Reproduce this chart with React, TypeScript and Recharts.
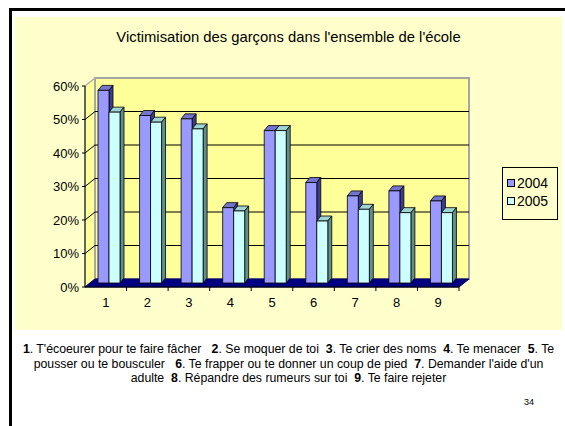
import React from "react"
import { BarChart, Bar, XAxis, YAxis, ReferenceArea, Legend } from "recharts"

const categories = ["1", "2", "3", "4", "5", "6", "7", "8", "9"]
const values2004 = [57.5, 50, 49, 22.5, 45.5, 30, 26, 27.5, 24.5]
const values2005 = [51, 48, 46, 21.5, 45.5, 18.5, 22, 21, 21]
const yTicks = [0, 10, 20, 30, 40, 50, 60]
const seriesNames = ["2004", "2005"]

const title = "Victimisation des garçons dans l'ensemble de l'école"
const footnoteLines: [string, string][][] = [
  [
    ["1", ". T'écoeurer pour te faire fâcher   "],
    ["2", ". Se moquer de toi  "],
    ["3", ". Te crier des noms  "],
    ["4", ". Te menacer  "],
    ["5", ". Te"],
  ],
  [
    ["", "pousser ou te bousculer   "],
    ["6", ". Te frapper ou te donner un coup de pied  "],
    ["7", ". Demander l'aide d'un"],
  ],
  [
    ["", "adulte  "],
    ["8", ". Répandre des rumeurs sur toi  "],
    ["9", ". Te faire rejeter"],
  ],
]
const pageNumber = "34"

const data = categories.map((cat, i) => ({
  cat,
  v2004: values2004[i],
  v2005: values2005[i],
}))

const FONT = "'Liberation Sans', Arial, sans-serif"

// 3d look: wall depth, bar depth and where the bars sit inside the floor
const WALL_DX = 10
const WALL_DY = 8
const BAR_DX = 4
const BAR_DY = 5
const BAR_SHIFT_X = 3
const BAR_SHIFT_Y = 4

const Walls = (props: any) => {
  const { x, y, width, height } = props
  const bottom = y + height
  const right = x + width
  const yOf = (v: number) => bottom - (v / yTicks[yTicks.length - 1]) * height
  return (
    <g>
      <polygon
        points={`${x},${y} ${x + WALL_DX},${y - WALL_DY} ${x + WALL_DX},${bottom - WALL_DY} ${x},${bottom}`}
        fill="#FFFF99"
        stroke="#A6A6A6"
        strokeWidth={1.2}
      />
      <rect x={x + WALL_DX} y={y - WALL_DY} width={width} height={height} fill="#FFFF99" stroke="#A6A6A6" strokeWidth={2} />
      {yTicks.slice(1, -1).map((v) => (
        <g key={v} stroke="#000" strokeWidth={1}>
          <line x1={x} y1={yOf(v)} x2={x + WALL_DX} y2={yOf(v) - WALL_DY} />
          <line x1={x + WALL_DX} y1={yOf(v) - WALL_DY} x2={right + WALL_DX} y2={yOf(v) - WALL_DY} />
        </g>
      ))}
      <polygon
        points={`${x},${bottom} ${right},${bottom} ${right + WALL_DX},${bottom - WALL_DY} ${x + WALL_DX},${bottom - WALL_DY}`}
        fill="#000080"
        stroke="#000060"
        strokeWidth={1}
      />
    </g>
  )
}

const make3DBar = (front: string, top: string, side: string) => (props: any) => {
  const { x, y, width, height } = props
  if (!height || height <= 0) return <g />
  const x0 = x + BAR_SHIFT_X
  const y0 = y - BAR_SHIFT_Y
  const w = width
  const h = height
  return (
    <g stroke="#000" strokeWidth={0.8} strokeLinejoin="round">
      <polygon points={`${x0},${y0} ${x0 + w},${y0} ${x0 + w + BAR_DX},${y0 - BAR_DY} ${x0 + BAR_DX},${y0 - BAR_DY}`} fill={top} />
      <polygon
        points={`${x0 + w},${y0} ${x0 + w + BAR_DX},${y0 - BAR_DY} ${x0 + w + BAR_DX},${y0 + h - BAR_DY} ${x0 + w},${y0 + h}`}
        fill={side}
      />
      <rect x={x0} y={y0} width={w} height={h} fill={front} />
    </g>
  )
}

const CategoryTick = (props: any) => {
  const { x, y, payload, width, visibleTicksCount } = props
  const half = width / visibleTicksCount / 2
  return (
    <g>
      <line x1={x + half} y1={y} x2={x + half} y2={y + 4} stroke="#000" />
      <text x={x} y={y + 20} textAnchor="middle" fontSize={13} fontFamily={FONT} fill="#000">
        {payload.value}
      </text>
    </g>
  )
}

const LegendBox = ({ payload }: any) => (
  <div
    style={{
      border: "1px solid #000",
      background: "#FFFFCC",
      width: 56,
      height: 53,
      boxSizing: "border-box",
      paddingTop: 6,
      paddingLeft: 4,
      fontFamily: FONT,
      fontSize: 14,
      color: "#000",
    }}
  >
    {(payload || []).map((entry: any) => (
      <div key={entry.value} style={{ display: "flex", alignItems: "center", height: 18 }}>
        <span
          style={{
            display: "inline-block",
            width: 6,
            height: 6,
            border: "1px solid #000",
            background: entry.color,
            marginRight: 2,
          }}
        />
        <span>{entry.value}</span>
      </div>
    ))}
  </div>
)

export default function App() {
  return (
    <div style={{ position: "absolute", left: 0, top: 0, width: 565, height: 426, background: "#fff", overflow: "hidden" }}>
      <div style={{ position: "absolute", left: 9, top: 8, width: 556, height: 3, background: "#000" }} />
      <div style={{ position: "absolute", left: 9, top: 8, width: 3, height: 418, background: "#000" }} />
      <div style={{ position: "absolute", left: 15, top: 17, width: 547, height: 313, background: "#FFFFCC" }}>
        <div
          style={{
            position: "absolute",
            left: 0,
            top: 11,
            width: 547,
            textAlign: "center",
            fontFamily: FONT,
            fontSize: 14.8,
            lineHeight: "19px",
            color: "#000",
          }}
        >
          {title}
        </div>
        <BarChart
          width={547}
          height={313}
          data={data}
          margin={{ top: 69, right: 103, bottom: 13, left: 10 }}
          barSize={11}
          barGap={0}
        >
          <ReferenceArea y1={0} y2={60} shape={<Walls />} ifOverflow="visible" />
          <XAxis
            dataKey="cat"
            height={30}
            tickSize={0}
            tickMargin={0}
            tickLine={false}
            axisLine={{ stroke: "#000" }}
            tick={<CategoryTick />}
          />
          <YAxis
            width={60}
            domain={[0, 60]}
            ticks={yTicks}
            tickFormatter={(v) => `${v}%`}
            tickSize={3}
            tickMargin={3}
            tickLine={{ stroke: "#000" }}
            axisLine={{ stroke: "#000" }}
            tick={{ fill: "#000", fontSize: 13, fontFamily: FONT }}
          />
          <Legend
            layout="vertical"
            align="center"
            verticalAlign="middle"
            content={<LegendBox />}
            wrapperStyle={{ left: 487, top: 150, width: 56, height: 53 }}
          />
          <Bar
            dataKey="v2004"
            name={seriesNames[0]}
            fill="#9999FF"
            isAnimationActive={false}
            shape={make3DBar("#9999FF", "#7373D0", "#3D3D8F")}
          />
          <Bar
            dataKey="v2005"
            name={seriesNames[1]}
            fill="#CCFFFF"
            isAnimationActive={false}
            shape={make3DBar("#CCFFFF", "#9FD4D4", "#5F8F8F")}
          />
        </BarChart>
      </div>
      <div
        style={{
          position: "absolute",
          left: 15,
          top: 342,
          width: 547,
          textAlign: "center",
          fontFamily: FONT,
          fontSize: 12.3,
          lineHeight: "14.5px",
          color: "#000",
          whiteSpace: "pre",
        }}
      >
        {footnoteLines.map((line, li) => (
          <div key={li}>
            {line.map(([num, text], si) => (
              <span key={si}>
                {num && <b>{num}</b>}
                {text}
              </span>
            ))}
          </div>
        ))}
      </div>
      <div style={{ position: "absolute", left: 524, top: 397, fontFamily: FONT, fontSize: 9, color: "#000" }}>
        {pageNumber}
      </div>
    </div>
  )
}
